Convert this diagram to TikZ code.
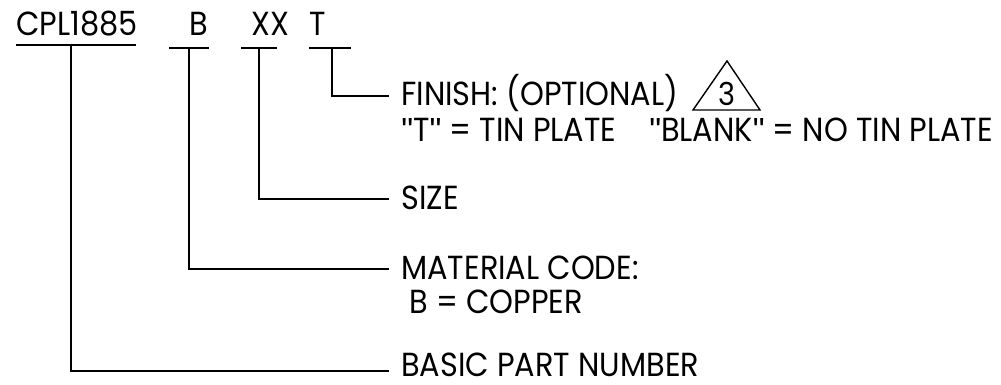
\documentclass[tikz,border=0pt]{standalone}
\usepackage{fontspec}
\setmainfont{Poppins}[FakeStretch=0.91]
\newfontfamily\quotefont{Liberation Sans}
\newcommand{\dquote}{{\quotefont"}}
\usetikzlibrary{positioning}
\tikzset{
  lbl/.style={inner sep=0pt, anchor=base west, font=\fontsize{19}{22}\selectfont},
  lead/.style={line width=0.8pt}
}
\begin{document}
\begin{tikzpicture}[line cap=rect,line join=miter,x=0.02cm,y=-0.02cm]
\useasboundingbox (0,0) rectangle (1001,385);
% part number fields
\node[lbl] (cpl) at (16,36) {CPL1885};
\node[lbl] (mat) at (189,36) {B};
\node[lbl] (siz) at (251,36) {XX};
\node[lbl] (fin) at (309,36) {T};
% underlines
\coordinate (cplL) at (17,45);
\coordinate (cplR) at (135,45);
\coordinate (matL) at (170,48);
\coordinate (matR) at (208,48);
\coordinate (sizL) at (242,48);
\coordinate (sizR) at (276,48);
\coordinate (finL) at (310,48);
\coordinate (finR) at (350,48);
\draw[lead] (cplL) -- (cplR);
\draw[lead] (matL) -- (matR);
\draw[lead] (sizL) -- (sizR);
\draw[lead] (finL) -- (finR);
% legs
\coordinate (cplleg) at (71,45);
\coordinate (matleg) at (189,48);
\coordinate (sizleg) at (259,48);
\coordinate (finleg) at (332,48);
\coordinate (basicend) at (388,371);
\coordinate (materialend) at (388,269);
\coordinate (sizeend) at (388,199);
\coordinate (finishend) at (388,96);
\draw[lead] (cplleg) |- (basicend);
\draw[lead] (matleg) |- (materialend);
\draw[lead] (sizleg) |- (sizeend);
\draw[lead] (finleg) |- (finishend);
% descriptions
\node[lbl] (finish) at (401,106) {FINISH: (OPTIONAL)};
\node[lbl] (tin) at (401,142) {\dquote T\dquote{} = TIN PLATE};
\node[lbl] (blank) at (649,142) {\dquote BLANK\dquote{} = NO TIN PLATE};
\node[lbl] (size) at (401,209) {SIZE};
\node[lbl] (material) at (401,279) {MATERIAL CODE:};
\node[lbl] (copper) at (409,313) {B = COPPER};
\node[lbl] (basic) at (401,376) {BASIC PART NUMBER};
% note flag
\coordinate (flagL) at (693,110);
\coordinate (flagT) at (727,61);
\coordinate (flagR) at (760,110);
\draw[lead] (flagL) -- (flagT) -- (flagR) -- cycle;
\node[lbl, anchor=base, font=\fontsize{18}{20}\selectfont] (three) at (727,106) {3};
\end{tikzpicture}
\end{document}
